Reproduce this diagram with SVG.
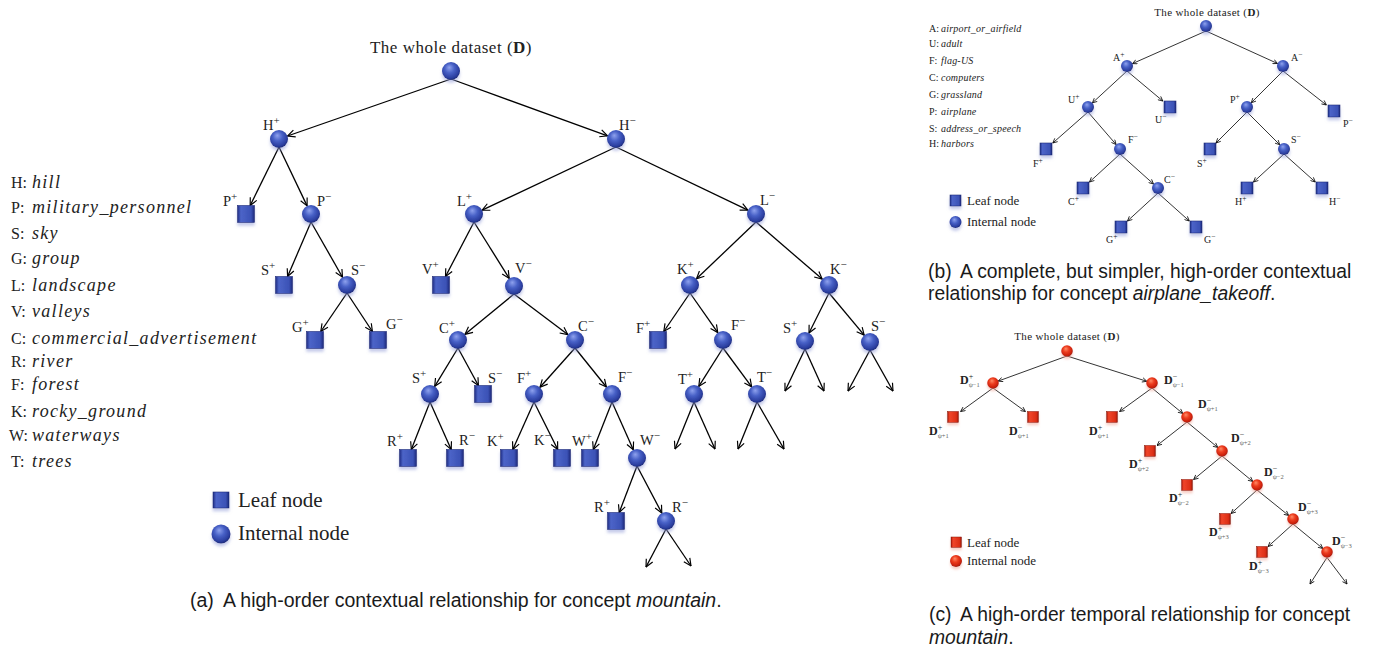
<svg xmlns="http://www.w3.org/2000/svg" width="1383" height="652" viewBox="0 0 1383 652">
<style>
.ttl{font-family:"Liberation Serif",serif;fill:#222}
.lbl{font-family:"Liberation Serif",serif;font-size:14.5px;fill:#222}
.lbs{font-family:"Liberation Serif",serif;font-size:10px;fill:#222}
.sp{font-size:11px}
.sps{font-size:7.5px}
.lk{font-family:"Liberation Serif",serif;font-size:16px;fill:#222}
.lv{font-family:"Liberation Serif",serif;font-style:italic;font-size:18px;letter-spacing:1.3px;fill:#222}
.lks{font-family:"Liberation Serif",serif;font-size:10px;fill:#222}
.lvs{font-family:"Liberation Serif",serif;font-style:italic;font-size:10px;letter-spacing:0.2px;fill:#222}
.leg{font-family:"Liberation Serif",serif;font-size:21px;fill:#222}
.legs{font-family:"Liberation Serif",serif;font-size:13px;fill:#222}
.cap{font-family:"Liberation Sans",Arial,sans-serif;fill:#1a1a1a}
.e{stroke:#000;stroke-width:1.3;fill:none;marker-end:url(#ar)}
.e2{stroke:#000;stroke-width:0.8;fill:none;marker-end:url(#ar2)}
.bc{fill:url(#gbc);filter:url(#shb)}
.bs{fill:url(#gbs);stroke:#1d2b78;stroke-width:0.6;filter:url(#shb)}
.rc{fill:url(#grc);filter:url(#shr)}
.rs{fill:url(#grs);stroke:#8a1406;stroke-width:0.5;filter:url(#shr)}
.dl{font-family:"Liberation Serif",serif;font-weight:bold;font-size:12px;fill:#222}
.d1{font-size:8px;font-weight:normal}
.d2{font-size:6.5px;font-weight:normal;fill:#666}
</style>
<defs>
<radialGradient id="gbc" cx="0.45" cy="0.4" r="0.6" fx="0.4" fy="0.3">
<stop offset="0" stop-color="#8fa2ee"/><stop offset="0.45" stop-color="#4760c6"/><stop offset="0.85" stop-color="#2b3e9f"/><stop offset="1" stop-color="#1c2a78"/>
</radialGradient>
<linearGradient id="gbs" x1="0" y1="0" x2="1" y2="0">
<stop offset="0" stop-color="#1f2e84"/><stop offset="0.2" stop-color="#4c64c8"/><stop offset="0.8" stop-color="#3b52b6"/><stop offset="1" stop-color="#1c2a7a"/>
</linearGradient>
<radialGradient id="grc" cx="0.45" cy="0.4" r="0.6" fx="0.4" fy="0.3">
<stop offset="0" stop-color="#ff8a66"/><stop offset="0.45" stop-color="#ec3a1c"/><stop offset="0.85" stop-color="#c8200c"/><stop offset="1" stop-color="#961304"/>
</radialGradient>
<linearGradient id="grs" x1="0" y1="0" x2="1" y2="0">
<stop offset="0" stop-color="#a8180a"/><stop offset="0.2" stop-color="#f0452a"/><stop offset="0.8" stop-color="#dc2e16"/><stop offset="1" stop-color="#9a1506"/>
</linearGradient>
<filter id="shb" x="-50%" y="-50%" width="200%" height="220%">
<feDropShadow dx="0" dy="3" stdDeviation="1.4" flood-color="#8d98d6" flood-opacity="0.5"/>
</filter>
<filter id="shr" x="-50%" y="-50%" width="200%" height="220%">
<feDropShadow dx="0" dy="2.5" stdDeviation="1.2" flood-color="#f0a090" flood-opacity="0.5"/>
</filter>
<marker id="ar" viewBox="0 0 10 10" refX="9.3" refY="5" markerWidth="9" markerHeight="9" orient="auto" markerUnits="userSpaceOnUse">
<path d="M1,1 L9.3,5 L1,9" fill="none" stroke="#000" stroke-width="1.3"/>
</marker>
<marker id="ar2" viewBox="0 0 10 10" refX="9.3" refY="5" markerWidth="5.5" markerHeight="5.5" orient="auto" markerUnits="userSpaceOnUse">
<path d="M1,1 L9.3,5 L1,9" fill="none" stroke="#000" stroke-width="1.4"/>
</marker>
</defs>
<rect width="1383" height="652" fill="#fff"/>

<!-- ===== Panel (a) ===== -->
<g id="a-legend-keys">
<text class="lk" x="11" y="188">H:</text><text class="lv" x="32" y="188">hill</text>
<text class="lk" x="11" y="213">P:</text><text class="lv" x="32" y="213">military_personnel</text>
<text class="lk" x="11" y="239">S:</text><text class="lv" x="32" y="239">sky</text>
<text class="lk" x="11" y="264">G:</text><text class="lv" x="32" y="264">group</text>
<text class="lk" x="11" y="291">L:</text><text class="lv" x="32" y="291">landscape</text>
<text class="lk" x="11" y="317">V:</text><text class="lv" x="32" y="317">valleys</text>
<text class="lk" x="11" y="344">C:</text><text class="lv" x="32" y="344">commercial_advertisement</text>
<text class="lk" x="11" y="367">R:</text><text class="lv" x="32" y="367">river</text>
<text class="lk" x="11" y="390">F:</text><text class="lv" x="32" y="390">forest</text>
<text class="lk" x="11" y="417">K:</text><text class="lv" x="32" y="417">rocky_ground</text>
<text class="lk" x="9" y="441">W:</text><text class="lv" x="32" y="441">waterways</text>
<text class="lk" x="11" y="467">T:</text><text class="lv" x="32" y="467">trees</text>
</g>

<g id="a-connectors">
<line class="e" x1="451" y1="79" x2="287.5" y2="136"/>
<line class="e" x1="451" y1="79" x2="607.5" y2="135.9"/>
<line class="e" x1="279" y1="147" x2="250.2" y2="205.5"/>
<line class="e" x1="279" y1="147" x2="307.1" y2="205.9"/>
<line class="e" x1="616" y1="147" x2="482.1" y2="210.2"/>
<line class="e" x1="616" y1="147" x2="747.9" y2="210.1"/>
<line class="e" x1="311" y1="222" x2="287.6" y2="276.5"/>
<line class="e" x1="311" y1="222" x2="342.5" y2="277.2"/>
<line class="e" x1="347" y1="293" x2="320.8" y2="331.5"/>
<line class="e" x1="347" y1="293" x2="372.4" y2="331.5"/>
<line class="e" x1="474" y1="222" x2="445.5" y2="276.5"/>
<line class="e" x1="474" y1="222" x2="509.2" y2="278.4"/>
<line class="e" x1="756" y1="222" x2="696.5" y2="278.8"/>
<line class="e" x1="756" y1="222" x2="822.2" y2="279.1"/>
<line class="e" x1="514" y1="294" x2="465" y2="334.3"/>
<line class="e" x1="514" y1="294" x2="567.8" y2="334.6"/>
<line class="e" x1="690" y1="293" x2="663.8" y2="331.5"/>
<line class="e" x1="690" y1="293" x2="717.8" y2="332.6"/>
<line class="e" x1="829" y1="293" x2="809" y2="333"/>
<line class="e" x1="829" y1="293" x2="864.2" y2="335.1"/>
<line class="e" x1="458" y1="348" x2="434.7" y2="386.3"/>
<line class="e" x1="458" y1="348" x2="478.4" y2="385.5"/>
<line class="e" x1="575" y1="348" x2="540" y2="387.3"/>
<line class="e" x1="575" y1="348" x2="606.4" y2="387"/>
<line class="e" x1="723" y1="348" x2="698.8" y2="386.4"/>
<line class="e" x1="723" y1="348" x2="751.7" y2="386.8"/>
<line class="e" x1="430" y1="402" x2="411.3" y2="449.5"/>
<line class="e" x1="430" y1="402" x2="451.2" y2="449.5"/>
<line class="e" x1="534" y1="402" x2="512.8" y2="449.5"/>
<line class="e" x1="534" y1="402" x2="557.7" y2="449.5"/>
<line class="e" x1="612" y1="402" x2="593.3" y2="449.5"/>
<line class="e" x1="612" y1="402" x2="633.3" y2="449.8"/>
<line class="e" x1="637" y1="466" x2="619.2" y2="512.5"/>
<line class="e" x1="637" y1="466" x2="661.8" y2="513"/>
<line class="e" x1="805" y1="349" x2="785" y2="391"/>
<line class="e" x1="805" y1="349" x2="824" y2="391"/>
<line class="e" x1="870" y1="350" x2="848" y2="391"/>
<line class="e" x1="870" y1="350" x2="893" y2="391"/>
<line class="e" x1="694" y1="402" x2="675" y2="449"/>
<line class="e" x1="694" y1="402" x2="715" y2="449"/>
<line class="e" x1="757" y1="402" x2="738" y2="449"/>
<line class="e" x1="757" y1="402" x2="784" y2="449"/>
<line class="e" x1="666" y1="529" x2="646" y2="567"/>
<line class="e" x1="666" y1="529" x2="691" y2="566"/>
</g>

<g id="a-root"><text class="ttl" x="451" y="53" text-anchor="middle" font-size="17" letter-spacing="0.5">The whole dataset (<tspan font-weight="bold">D</tspan>)</text><circle class="bc" cx="451" cy="71" r="9"/></g>
<g id="a-Hp"><circle class="bc" cx="279" cy="139" r="9"/><text class="lbl" x="263" y="130">H<tspan class="sp" dy="-6">+</tspan></text></g>
<g id="a-Hm"><circle class="bc" cx="616" cy="139" r="9"/><text class="lbl" x="619" y="130">H<tspan class="sp" dy="-6">−</tspan></text></g>
<g id="a-Pp"><rect class="bs" x="237.5" y="205.5" width="17" height="17"/><text class="lbl" x="223" y="206">P<tspan class="sp" dy="-6">+</tspan></text></g>
<g id="a-Pm"><circle class="bc" cx="311" cy="214" r="9"/><text class="lbl" x="317" y="206">P<tspan class="sp" dy="-6">−</tspan></text></g>
<g id="a-Lp"><circle class="bc" cx="474" cy="214" r="9"/><text class="lbl" x="457" y="206">L<tspan class="sp" dy="-6">+</tspan></text></g>
<g id="a-Lm"><circle class="bc" cx="756" cy="214" r="9"/><text class="lbl" x="760" y="205">L<tspan class="sp" dy="-6">−</tspan></text></g>
<g id="a-Sp1"><rect class="bs" x="275.5" y="276.5" width="17" height="17"/><text class="lbl" x="261" y="275">S<tspan class="sp" dy="-6">+</tspan></text></g>
<g id="a-Sm1"><circle class="bc" cx="347" cy="285" r="9"/><text class="lbl" x="351" y="275">S<tspan class="sp" dy="-6">−</tspan></text></g>
<g id="a-Gp"><rect class="bs" x="306.5" y="331.5" width="17" height="17"/><text class="lbl" x="292" y="332">G<tspan class="sp" dy="-6">+</tspan></text></g>
<g id="a-Gm"><rect class="bs" x="369.5" y="331.5" width="17" height="17"/><text class="lbl" x="386" y="329">G<tspan class="sp" dy="-6">−</tspan></text></g>
<g id="a-Vp"><rect class="bs" x="432.5" y="276.5" width="17" height="17"/><text class="lbl" x="422" y="274">V<tspan class="sp" dy="-6">+</tspan></text></g>
<g id="a-Vm"><circle class="bc" cx="514" cy="286" r="9"/><text class="lbl" x="515" y="273">V<tspan class="sp" dy="-6">−</tspan></text></g>
<g id="a-Kp"><circle class="bc" cx="690" cy="285" r="9"/><text class="lbl" x="677" y="274">K<tspan class="sp" dy="-6">+</tspan></text></g>
<g id="a-Km"><circle class="bc" cx="829" cy="285" r="9"/><text class="lbl" x="830" y="274">K<tspan class="sp" dy="-6">−</tspan></text></g>
<g id="a-Cp"><circle class="bc" cx="458" cy="340" r="9"/><text class="lbl" x="439" y="333">C<tspan class="sp" dy="-6">+</tspan></text></g>
<g id="a-Cm"><circle class="bc" cx="575" cy="340" r="9"/><text class="lbl" x="578" y="331">C<tspan class="sp" dy="-6">−</tspan></text></g>
<g id="a-Fp1"><rect class="bs" x="649.5" y="331.5" width="17" height="17"/><text class="lbl" x="636" y="333">F<tspan class="sp" dy="-6">+</tspan></text></g>
<g id="a-Fm1"><circle class="bc" cx="723" cy="340" r="9"/><text class="lbl" x="731" y="330">F<tspan class="sp" dy="-6">−</tspan></text></g>
<g id="a-Sp2"><circle class="bc" cx="805" cy="341" r="9"/><text class="lbl" x="783" y="333">S<tspan class="sp" dy="-6">+</tspan></text></g>
<g id="a-Sm2"><circle class="bc" cx="870" cy="342" r="9"/><text class="lbl" x="871" y="331">S<tspan class="sp" dy="-6">−</tspan></text></g>
<g id="a-Sp3"><circle class="bc" cx="430" cy="394" r="9"/><text class="lbl" x="412" y="383">S<tspan class="sp" dy="-6">+</tspan></text></g>
<g id="a-Sm3"><rect class="bs" x="474.5" y="385.5" width="17" height="17"/><text class="lbl" x="488" y="383">S<tspan class="sp" dy="-6">−</tspan></text></g>
<g id="a-Fp2"><circle class="bc" cx="534" cy="394" r="9"/><text class="lbl" x="517" y="383">F<tspan class="sp" dy="-6">+</tspan></text></g>
<g id="a-Fm2"><circle class="bc" cx="612" cy="394" r="9"/><text class="lbl" x="618" y="382">F<tspan class="sp" dy="-6">−</tspan></text></g>
<g id="a-Tp"><circle class="bc" cx="694" cy="394" r="9"/><text class="lbl" x="678" y="384">T<tspan class="sp" dy="-6">+</tspan></text></g>
<g id="a-Tm"><circle class="bc" cx="757" cy="394" r="9"/><text class="lbl" x="757" y="382">T<tspan class="sp" dy="-6">−</tspan></text></g>
<g id="a-Rp1"><rect class="bs" x="399.5" y="449.5" width="17" height="17"/><text class="lbl" x="387" y="446">R<tspan class="sp" dy="-6">+</tspan></text></g>
<g id="a-Rm1"><rect class="bs" x="446.5" y="449.5" width="17" height="17"/><text class="lbl" x="459" y="445">R<tspan class="sp" dy="-6">−</tspan></text></g>
<g id="a-Kp2"><rect class="bs" x="500.5" y="449.5" width="17" height="17"/><text class="lbl" x="487" y="446">K<tspan class="sp" dy="-6">+</tspan></text></g>
<g id="a-Km2"><rect class="bs" x="553.5" y="449.5" width="17" height="17"/><text class="lbl" x="534" y="445">K<tspan class="sp" dy="-6">−</tspan></text></g>
<g id="a-Wp"><rect class="bs" x="581.5" y="449.5" width="17" height="17"/><text class="lbl" x="572" y="446">W<tspan class="sp" dy="-6">+</tspan></text></g>
<g id="a-Wm"><circle class="bc" cx="637" cy="458" r="9"/><text class="lbl" x="640" y="445">W<tspan class="sp" dy="-6">−</tspan></text></g>
<g id="a-Rp2"><rect class="bs" x="607.5" y="512.5" width="17" height="17"/><text class="lbl" x="594" y="512">R<tspan class="sp" dy="-6">+</tspan></text></g>
<g id="a-Rm2"><circle class="bc" cx="666" cy="521" r="9"/><text class="lbl" x="672" y="512">R<tspan class="sp" dy="-6">−</tspan></text></g>

<g id="a-legend">
<rect class="bs" x="213" y="492" width="16" height="16"/><text class="leg" x="238" y="507">Leaf node</text>
<circle class="bc" cx="221" cy="534" r="9.5"/><text class="leg" x="238" y="540">Internal node</text>
</g>
<text id="a-caption" class="cap" x="190" y="607" font-size="19.5">(a)<tspan x="223">A high-order contextual relationship for concept </tspan><tspan font-style="italic">mountain</tspan>.</text>

<!-- ===== Panel (b) ===== -->
<g id="b-legend-keys">
<text class="lks" x="929" y="32">A:</text><text class="lvs" x="941" y="32">airport_or_airfield</text>
<text class="lks" x="929" y="47">U:</text><text class="lvs" x="941" y="47">adult</text>
<text class="lks" x="929" y="64">F:</text><text class="lvs" x="941" y="64">flag-US</text>
<text class="lks" x="929" y="81">C:</text><text class="lvs" x="941" y="81">computers</text>
<text class="lks" x="929" y="98">G:</text><text class="lvs" x="941" y="98">grassland</text>
<text class="lks" x="929" y="115">P:</text><text class="lvs" x="941" y="115">airplane</text>
<text class="lks" x="929" y="132">S:</text><text class="lvs" x="941" y="132">address_or_speech</text>
<text class="lks" x="929" y="147">H:</text><text class="lvs" x="941" y="147">harbors</text>
</g>
<g id="b-connectors">
<line class="e2" x1="1206" y1="31" x2="1132.5" y2="63.6"/>
<line class="e2" x1="1206" y1="31" x2="1277.5" y2="63.5"/>
<line class="e2" x1="1127" y1="71" x2="1092.4" y2="102.9"/>
<line class="e2" x1="1127" y1="71" x2="1162.8" y2="101"/>
<line class="e2" x1="1283" y1="71" x2="1251.2" y2="102.8"/>
<line class="e2" x1="1283" y1="71" x2="1326.4" y2="105"/>
<line class="e2" x1="1088" y1="112" x2="1052.8" y2="143"/>
<line class="e2" x1="1088" y1="112" x2="1116.1" y2="144.5"/>
<line class="e2" x1="1247" y1="112" x2="1216" y2="143"/>
<line class="e2" x1="1247" y1="112" x2="1279.8" y2="144.8"/>
<line class="e2" x1="1120" y1="154" x2="1089.5" y2="182"/>
<line class="e2" x1="1120" y1="154" x2="1153.5" y2="184"/>
<line class="e2" x1="1284" y1="154" x2="1253.5" y2="182"/>
<line class="e2" x1="1284" y1="154" x2="1315.3" y2="182"/>
<line class="e2" x1="1158" y1="193" x2="1127.5" y2="221"/>
<line class="e2" x1="1158" y1="193" x2="1189.3" y2="221"/>
</g>
<g id="b-root"><text class="ttl" x="1207" y="16" text-anchor="middle" font-size="11" letter-spacing="0.35">The whole dataset (<tspan font-weight="bold">D</tspan>)</text><circle class="bc" cx="1206" cy="26" r="6"/></g>
<g id="b-Ap"><circle class="bc" cx="1127" cy="66" r="6"/><text class="lbs" x="1113" y="61">A<tspan class="sps" dy="-4">+</tspan></text></g>
<g id="b-Am"><circle class="bc" cx="1283" cy="66" r="6"/><text class="lbs" x="1291" y="61">A<tspan class="sps" dy="-4">−</tspan></text></g>
<g id="b-Up"><circle class="bc" cx="1088" cy="107" r="6"/><text class="lbs" x="1068" y="103">U<tspan class="sps" dy="-4">+</tspan></text></g>
<g id="b-Um"><rect class="bs" x="1164" y="101" width="12" height="12"/><text class="lbs" x="1155" y="123">U<tspan class="sps" dy="-4">−</tspan></text></g>
<g id="b-Pp"><circle class="bc" cx="1247" cy="107" r="6"/><text class="lbs" x="1230" y="103">P<tspan class="sps" dy="-4">+</tspan></text></g>
<g id="b-Pm"><rect class="bs" x="1328" y="105" width="12" height="12"/><text class="lbs" x="1343" y="127">P<tspan class="sps" dy="-4">−</tspan></text></g>
<g id="b-Fp"><rect class="bs" x="1040" y="143" width="12" height="12"/><text class="lbs" x="1033" y="167">F<tspan class="sps" dy="-4">+</tspan></text></g>
<g id="b-Fm"><circle class="bc" cx="1120" cy="149" r="6"/><text class="lbs" x="1128" y="143">F<tspan class="sps" dy="-4">−</tspan></text></g>
<g id="b-Sp"><rect class="bs" x="1204" y="143" width="12" height="12"/><text class="lbs" x="1197" y="167">S<tspan class="sps" dy="-4">+</tspan></text></g>
<g id="b-Sm"><circle class="bc" cx="1284" cy="149" r="6"/><text class="lbs" x="1291" y="143">S<tspan class="sps" dy="-4">−</tspan></text></g>
<g id="b-Cp"><rect class="bs" x="1077" y="182" width="12" height="12"/><text class="lbs" x="1068" y="205">C<tspan class="sps" dy="-4">+</tspan></text></g>
<g id="b-Cm"><circle class="bc" cx="1158" cy="188" r="6"/><text class="lbs" x="1164" y="183">C<tspan class="sps" dy="-4">−</tspan></text></g>
<g id="b-Hp"><rect class="bs" x="1241" y="182" width="12" height="12"/><text class="lbs" x="1235" y="205">H<tspan class="sps" dy="-4">+</tspan></text></g>
<g id="b-Hm"><rect class="bs" x="1316" y="182" width="12" height="12"/><text class="lbs" x="1329" y="205">H<tspan class="sps" dy="-4">−</tspan></text></g>
<g id="b-Gp"><rect class="bs" x="1115" y="221" width="12" height="12"/><text class="lbs" x="1106" y="243">G<tspan class="sps" dy="-4">+</tspan></text></g>
<g id="b-Gm"><rect class="bs" x="1190" y="221" width="12" height="12"/><text class="lbs" x="1204" y="243">G<tspan class="sps" dy="-4">−</tspan></text></g>
<g id="b-legend">
<rect class="bs" x="950" y="195" width="11" height="11"/><text class="legs" x="967" y="205">Leaf node</text>
<circle class="bc" cx="955.5" cy="222" r="6"/><text class="legs" x="967" y="226">Internal node</text>
</g>
<text id="b-caption" class="cap" font-size="19.3"><tspan x="928" y="278">(b)</tspan><tspan x="960" y="278">A complete, but simpler, high-order contextual</tspan><tspan x="928" y="300">relationship for concept </tspan><tspan font-style="italic">airplane_takeoff</tspan>.</text>

<!-- ===== Panel (c) ===== -->
<g id="c-connectors">
<line class="e2" x1="1067" y1="356" x2="998.2" y2="381.1"/>
<line class="e2" x1="1067" y1="356" x2="1146.8" y2="381.3"/>
<line class="e2" x1="993" y1="388" x2="960.6" y2="411.5"/>
<line class="e2" x1="993" y1="388" x2="1025.4" y2="411.5"/>
<line class="e2" x1="1152" y1="388" x2="1119.6" y2="411.5"/>
<line class="e2" x1="1152" y1="388" x2="1182.8" y2="413.5"/>
<line class="e2" x1="1187" y1="422" x2="1157" y2="445.5"/>
<line class="e2" x1="1187" y1="422" x2="1217.8" y2="447.5"/>
<line class="e2" x1="1222" y1="456" x2="1193.6" y2="479.5"/>
<line class="e2" x1="1222" y1="456" x2="1252.8" y2="481.5"/>
<line class="e2" x1="1257" y1="490" x2="1231.1" y2="513.5"/>
<line class="e2" x1="1257" y1="490" x2="1288.7" y2="515.5"/>
<line class="e2" x1="1293" y1="524" x2="1268.1" y2="546.5"/>
<line class="e2" x1="1293" y1="524" x2="1322.8" y2="548.5"/>
<line class="e2" x1="1327" y1="557.5" x2="1310" y2="584"/>
<line class="e2" x1="1327" y1="557.5" x2="1347" y2="584"/>
</g>
<g id="c-root"><text class="ttl" x="1067" y="340" text-anchor="middle" font-size="11" letter-spacing="0.35">The whole dataset (<tspan font-weight="bold">D</tspan>)</text><circle class="rc" cx="1067" cy="351" r="5.8"/></g>
<g id="c-n1"><circle class="rc" cx="993" cy="383" r="5.8"/><text class="dl" x="960" y="384">D<tspan class="d1" dy="-5">+</tspan><tspan class="d2" dx="-4.5" dy="8">ψ−1</tspan></text></g>
<g id="c-n2"><circle class="rc" cx="1152" cy="383" r="5.8"/><text class="dl" x="1164" y="384">D<tspan class="d1" dy="-5">−</tspan><tspan class="d2" dx="-4.5" dy="8">ψ−1</tspan></text></g>
<g id="c-l1"><rect class="rs" x="947.5" y="411.5" width="11" height="11"/><text class="dl" x="929" y="435">D<tspan class="d1" dy="-5">+</tspan><tspan class="d2" dx="-4.5" dy="8">ψ+1</tspan></text></g>
<g id="c-l2"><rect class="rs" x="1027.5" y="411.5" width="11" height="11"/><text class="dl" x="1009" y="435">D<tspan class="d1" dy="-5">−</tspan><tspan class="d2" dx="-4.5" dy="8">ψ+1</tspan></text></g>
<g id="c-l3"><rect class="rs" x="1106.5" y="411.5" width="11" height="11"/><text class="dl" x="1089" y="435">D<tspan class="d1" dy="-5">+</tspan><tspan class="d2" dx="-4.5" dy="8">ψ+1</tspan></text></g>
<g id="c-n3"><circle class="rc" cx="1187" cy="417" r="5.8"/><text class="dl" x="1198" y="408">D<tspan class="d1" dy="-5">−</tspan><tspan class="d2" dx="-4.5" dy="8">ψ+1</tspan></text></g>
<g id="c-l4"><rect class="rs" x="1144.5" y="445.5" width="11" height="11"/><text class="dl" x="1129" y="468">D<tspan class="d1" dy="-5">+</tspan><tspan class="d2" dx="-4.5" dy="8">ψ+2</tspan></text></g>
<g id="c-n4"><circle class="rc" cx="1222" cy="451" r="5.8"/><text class="dl" x="1231" y="442">D<tspan class="d1" dy="-5">−</tspan><tspan class="d2" dx="-4.5" dy="8">ψ+2</tspan></text></g>
<g id="c-l5"><rect class="rs" x="1181.5" y="479.5" width="11" height="11"/><text class="dl" x="1169" y="502">D<tspan class="d1" dy="-5">+</tspan><tspan class="d2" dx="-4.5" dy="8">ψ−2</tspan></text></g>
<g id="c-n5"><circle class="rc" cx="1257" cy="485" r="5.8"/><text class="dl" x="1264" y="476">D<tspan class="d1" dy="-5">−</tspan><tspan class="d2" dx="-4.5" dy="8">ψ−2</tspan></text></g>
<g id="c-l6"><rect class="rs" x="1219.5" y="513.5" width="11" height="11"/><text class="dl" x="1209" y="536">D<tspan class="d1" dy="-5">+</tspan><tspan class="d2" dx="-4.5" dy="8">ψ+3</tspan></text></g>
<g id="c-n6"><circle class="rc" cx="1293" cy="519" r="5.8"/><text class="dl" x="1298" y="511">D<tspan class="d1" dy="-5">−</tspan><tspan class="d2" dx="-4.5" dy="8">ψ+3</tspan></text></g>
<g id="c-l7"><rect class="rs" x="1256.5" y="546.5" width="11" height="11"/><text class="dl" x="1249" y="570">D<tspan class="d1" dy="-5">+</tspan><tspan class="d2" dx="-4.5" dy="8">ψ−3</tspan></text></g>
<g id="c-n7"><circle class="rc" cx="1327" cy="552" r="5.8"/><text class="dl" x="1332" y="545">D<tspan class="d1" dy="-5">−</tspan><tspan class="d2" dx="-4.5" dy="8">ψ−3</tspan></text></g>
<g id="c-legend">
<rect class="rs" x="951" y="537" width="10.5" height="10.5"/><text class="legs" x="967" y="547">Leaf node</text>
<circle class="rc" cx="956" cy="561" r="6"/><text class="legs" x="967" y="565">Internal node</text>
</g>
<text id="c-caption" class="cap" font-size="19.3"><tspan x="929" y="621">(c)</tspan><tspan x="960" y="621">A high-order temporal relationship for concept</tspan><tspan x="929" y="644" font-style="italic">mountain</tspan>.</text>
</svg>
